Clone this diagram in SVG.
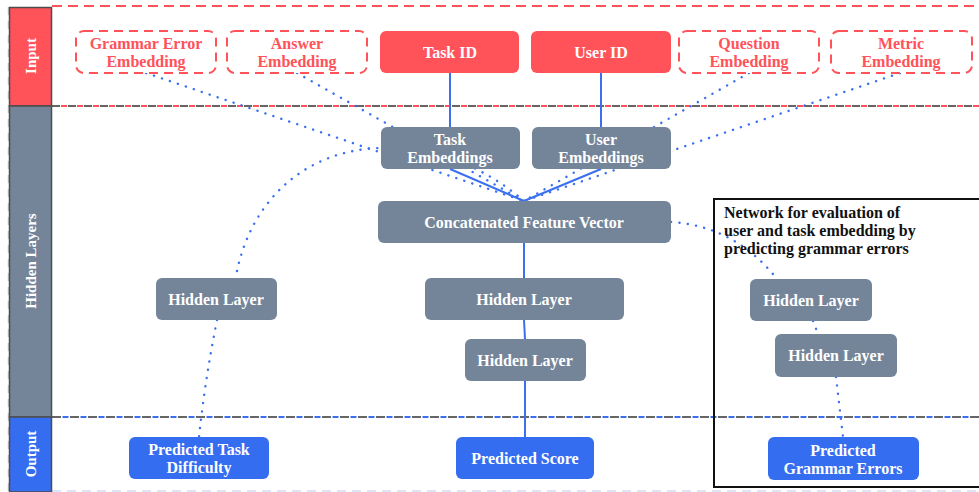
<svg xmlns="http://www.w3.org/2000/svg" width="979" height="492" viewBox="0 0 979 492">
<style>
.t{font-family:"Liberation Serif","DejaVu Serif",serif;font-weight:bold;font-size:16px;text-anchor:middle}
.w{fill:#ffffff}
.r{fill:#ff5259}
.in{fill:#ff5259}
.dash{fill:#ffffff;stroke:#ff5259;stroke-width:2;stroke-dasharray:9 6}
.hid{fill:#748599}
.out{fill:#346df0}
.solid{stroke:#3a6ff0;stroke-width:2;fill:none}
.dot{stroke:#3a6ff0;stroke-width:2.4;fill:none;stroke-dasharray:0.1 8.3;stroke-linecap:round}
.side{font-family:"Liberation Serif","DejaVu Serif",serif;font-weight:bold;font-size:15px;fill:#ffffff;text-anchor:middle}
</style>
<rect width="979" height="492" fill="#ffffff"/>
<g id="bands">
<line x1="8.5" y1="7" x2="8.5" y2="492" stroke="#c8c8c8" stroke-width="1.5" stroke-dasharray="8 6"/>
<line x1="52" y1="6" x2="979" y2="6" stroke="#ff5259" stroke-width="2" stroke-dasharray="10 6"/>
<line x1="52" y1="106" x2="979" y2="106" stroke="#666" stroke-width="2" stroke-dasharray="8 8"/>
<line x1="52" y1="106" x2="979" y2="106" stroke="#ff5259" stroke-width="2" stroke-dasharray="6 10" stroke-dashoffset="-9"/>
<line x1="52" y1="417" x2="979" y2="417" stroke="#666" stroke-width="2" stroke-dasharray="9 9"/>
<line x1="52" y1="417" x2="979" y2="417" stroke="#3a6ff0" stroke-width="2" stroke-dasharray="6 12" stroke-dashoffset="-10.5"/>
<line x1="52" y1="491" x2="979" y2="491" stroke="#cfdcf8" stroke-width="1.5" stroke-dasharray="9 6"/>
<rect x="9.5" y="7.5" width="42" height="98.5" fill="#ff5259" stroke="#4d4d4d" stroke-width="1.5"/>
<rect x="9.5" y="106" width="42" height="311" fill="#748599" stroke="#4d4d4d" stroke-width="1.5"/>
<rect x="9.5" y="417" width="42" height="75" fill="#346df0" stroke="#4d4d4d" stroke-width="1.5"/>
<text class="side" transform="translate(36,56) rotate(-90)">Input</text>
<text class="side" transform="translate(36,261) rotate(-90)">Hidden Layers</text>
<text class="side" transform="translate(36,454) rotate(-90)">Output</text>
</g>
<g id="connectors">
<line class="solid" x1="450" y1="73" x2="450" y2="127"/>
<line class="solid" x1="601" y1="73" x2="601" y2="127"/>
<line class="solid" x1="450" y1="169" x2="524" y2="201"/>
<line class="solid" x1="601" y1="169" x2="524" y2="201"/>
<line class="solid" x1="524" y1="243" x2="524" y2="278"/>
<line class="solid" x1="524" y1="320" x2="525" y2="339"/>
<line class="solid" x1="525" y1="381" x2="525" y2="437"/>
<path class="dot" d="M146,73 L524,201"/>
<path class="dot" d="M297,73 L524,201"/>
<path class="dot" d="M749,73 L524,201"/>
<path class="dot" d="M900,73 L524,201"/>
<path class="dot" d="M237,271 C252,200 305,150 381,148 C450,146 500,180 524,201"/>
<path class="dot" d="M671,222 Q735,226 777,279"/>
<path class="dot" d="M813,321 L818,334"/>
<path class="dot" d="M836,377 L843,437"/>
<path class="dot" d="M217,320 Q205,380 199,437"/>
</g>
<g id="input-grammar"><rect class="dash" x="76" y="31" width="140" height="42" rx="8"/><text class="t r" x="146" y="48.5">Grammar Error</text><text class="t r" x="146" y="66.5">Embedding</text></g>
<g id="input-answer"><rect class="dash" x="227" y="31" width="140" height="42" rx="8"/><text class="t r" x="297" y="48.5">Answer</text><text class="t r" x="297" y="66.5">Embedding</text></g>
<g id="input-task"><rect class="in" x="380" y="31" width="139" height="42" rx="6"/><text class="t w" x="450" y="57.5">Task ID</text></g>
<g id="input-user"><rect class="in" x="531" y="31" width="140" height="42" rx="6"/><text class="t w" x="601" y="57.5">User ID</text></g>
<g id="input-question"><rect class="dash" x="679" y="31" width="140" height="42" rx="8"/><text class="t r" x="749" y="48.5">Question</text><text class="t r" x="749" y="66.5">Embedding</text></g>
<g id="input-metric"><rect class="dash" x="831" y="31" width="141" height="42" rx="8"/><text class="t r" x="901" y="48.5">Metric</text><text class="t r" x="901" y="66.5">Embedding</text></g>
<g id="task-emb"><rect class="hid" x="381" y="127" width="139" height="42" rx="6"/><text class="t w" x="450" y="145">Task</text><text class="t w" x="450" y="163">Embeddings</text></g>
<g id="user-emb"><rect class="hid" x="532" y="127" width="139" height="42" rx="6"/><text class="t w" x="601" y="145">User</text><text class="t w" x="601" y="163">Embeddings</text></g>
<g id="concat"><rect class="hid" x="378" y="201" width="293" height="42" rx="6"/><text class="t w" x="524" y="227.5">Concatenated Feature Vector</text></g>
<g id="hidden-mid-1"><rect class="hid" x="425" y="278" width="199" height="42" rx="6"/><text class="t w" x="524" y="304.5">Hidden Layer</text></g>
<g id="hidden-mid-2"><rect class="hid" x="465" y="339" width="121" height="42" rx="6"/><text class="t w" x="525" y="365.5">Hidden Layer</text></g>
<g id="hidden-left"><rect class="hid" x="156" y="278" width="121" height="42" rx="6"/><text class="t w" x="216" y="304.5">Hidden Layer</text></g>
<g id="out-difficulty"><rect class="out" x="129" y="437" width="140" height="42" rx="6"/><text class="t w" x="199" y="455">Predicted Task</text><text class="t w" x="199" y="473">Difficulty</text></g>
<g id="out-score"><rect class="out" x="456" y="437" width="138" height="42" rx="6"/><text class="t w" x="525" y="463.5">Predicted Score</text></g>
<g id="grammar-net">
<rect x="714" y="199" width="280" height="288" fill="none" stroke="#111" stroke-width="2"/>
<text font-family="Liberation Serif, DejaVu Serif, serif" font-weight="bold" font-size="16" fill="#111"><tspan x="724" y="218">Network for evaluation of</tspan><tspan x="724" y="236">user and task embedding by</tspan><tspan x="724" y="254">predicting grammar errors</tspan></text>
</g>
<g id="hidden-right-1"><rect class="hid" x="750" y="279" width="122" height="42" rx="6"/><text class="t w" x="811" y="305.5">Hidden Layer</text></g>
<g id="hidden-right-2"><rect class="hid" x="775" y="334" width="122" height="43" rx="6"/><text class="t w" x="836" y="361">Hidden Layer</text></g>
<g id="out-grammar"><rect class="out" x="768" y="437" width="151" height="43" rx="6"/><text class="t w" x="843" y="455.5">Predicted</text><text class="t w" x="843" y="473.5">Grammar Errors</text></g>
</svg>
